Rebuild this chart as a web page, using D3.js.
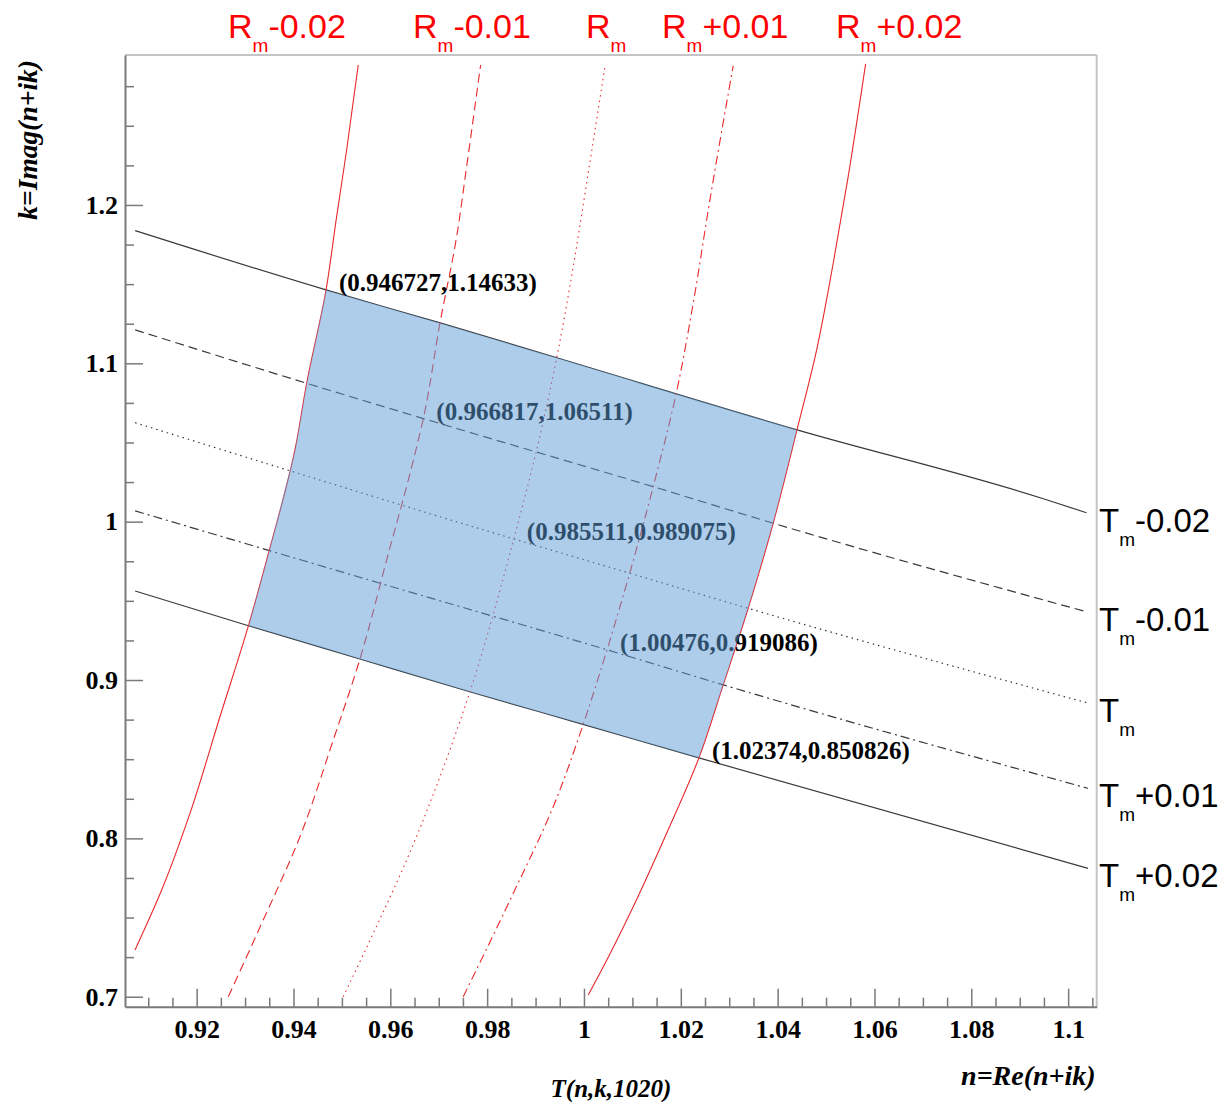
<!DOCTYPE html>
<html>
<head>
<meta charset="utf-8">
<script src="https://cdn.jsdelivr.net/npm/d3@7"></script>
<style>
  body { margin: 0; background: #fff; }
</style>
</head>
<body>
<svg id="chart" width="1223" height="1102"></svg>
<script>
// --- Data: points are [n, k] --------------------------------------
const nTicks = [0.92, 0.94, 0.96, 0.98, 1.0, 1.02, 1.04, 1.06, 1.08, 1.1];
const kTicks = [0.7, 0.8, 0.9, 1.0, 1.1, 1.2];

// R contours (red), bottom to top
const rMinus02 = [[0.90726, 0.7295], [0.91277, 0.7674], [0.91862, 0.8158], [0.92481, 0.8768],
  [0.9307, 0.9343], [0.93446, 0.9758], [0.9403, 1.0453], [0.94272, 1.0874],
  [0.946727, 1.14633], [0.94891, 1.1926], [0.95098, 1.2347], [0.95337, 1.2884]];
const rMinus01 = [[0.92653, 0.7], [0.93375, 0.7484], [0.94133, 0.801], [0.94821, 0.8621],
  [0.95373, 0.9133], [0.95924, 0.9758], [0.96529, 1.0453], [0.966817, 1.06511],
  [0.97025, 1.1253], [0.9737, 1.18], [0.97576, 1.2242], [0.97865, 1.2884]];
const rMid = [[0.95028, 0.7], [0.95647, 0.74], [0.96337, 0.7863], [0.97025, 0.8389],
  [0.97644, 0.8926], [0.98435, 0.9758], [0.985511, 0.989075], [0.99022, 1.0453],
  [0.99435, 1.1032], [0.99778, 1.161], [1.00054, 1.2137], [1.00433, 1.2873]];
const rPlus01 = [[0.97506, 0.7], [0.98539, 0.7653], [0.99365, 0.82], [0.99984, 0.872],
  [1.00476, 0.919086], [1.0143, 1.0221], [1.01913, 1.0821], [1.02256, 1.1379],
  [1.02601, 1.2032], [1.03082, 1.2878]];
const rPlus02 = [[1.00088, 0.7011], [1.00329, 0.7148], [1.01017, 0.7568], [1.01707, 0.8032],
  [1.02374, 0.850826], [1.02876, 0.8969], [1.03392, 0.9453], [1.03908, 0.999],
  [1.044, 1.058], [1.04805, 1.1084], [1.05148, 1.1632], [1.05457, 1.2179], [1.05817, 1.2891]];

// T contours (black), left to right
const tMinus02 = [[0.9073, 1.1838], [0.946727, 1.14633], [0.9703, 1.1255], [0.9944, 1.1035],
  [1.044, 1.058], [1.0949, 1.0145], [1.1038, 1.0056]];
const tMinus01 = [[0.9073, 1.1211], [0.9427, 1.0874], [0.966817, 1.06511], [1.0143, 1.0221],
  [1.0391, 0.999], [1.1038, 0.9431]];
const tMid = [[0.9073, 1.0625], [0.985511, 0.989075], [1.0095, 0.9674], [1.0339, 0.9453],
  [1.1038, 0.8857]];
const tPlus01 = [[0.9073, 1.0068], [0.9579, 0.9611], [1.00476, 0.919086], [1.0288, 0.8969],
  [1.1041, 0.8316]];
const tPlus02 = [[0.9073, 0.9562], [0.9307, 0.9343], [0.9537, 0.9133], [0.9764, 0.8926],
  [0.9998, 0.872], [1.02374, 0.850826], [1.1041, 0.7811]];

// labelled crossing points
const crossings = [[0.946727, 1.14633], [0.966817, 1.06511], [0.985511, 0.989075],
  [1.00476, 0.919086], [1.02374, 0.850826]];

// corners of the shaded region: top-left, top-right, bottom-right, bottom-left
const regionCorners = [[0.946727, 1.14633], [1.044, 1.058], [1.02374, 0.850826], [0.9307, 0.9343]];

const rSuffix = ["-0.02", "-0.01", "", "+0.01", "+0.02"];
const tSuffix = ["-0.02", "-0.01", "", "+0.01", "+0.02"];

// --- Layout --------------------------------------------------------
const svg = d3.select("#chart");
const frame = {left: 125, right: 1096.7, top: 55, bottom: 1006.7};

const x = d3.scaleLinear().domain([0.9052, 1.1059]).range([frame.left, frame.right]);
const y = d3.scaleLinear().domain([0.6937, 1.2947]).range([frame.bottom, frame.top]);

const dashes = ["none", "9,5", "1.5,4", "9,4,2,4", "none"];
const serif = "'Liberation Serif', 'Times New Roman', serif";
const sans = "'Liberation Sans', Arial, Helvetica, sans-serif";

// frame top/right
svg.append("line")
  .attr("x1", frame.left).attr("x2", frame.right)
  .attr("y1", frame.top).attr("y2", frame.top)
  .attr("stroke", "#c4c4c4").attr("stroke-width", 2);
svg.append("line")
  .attr("x1", frame.right).attr("x2", frame.right)
  .attr("y1", frame.top).attr("y2", frame.bottom)
  .attr("stroke", "#c4c4c4").attr("stroke-width", 2);

// --- Axes ----------------------------------------------------------
const fmt = d => String(+d.toFixed(2));

const xMinor = d3.range(182, 222).map(i => +(i * 0.005).toFixed(3))
  .filter(v => v >= x.domain()[0] && v <= x.domain()[1] && !nTicks.some(t => Math.abs(t - v) < 1e-6));
const yMinor = d3.range(28, 52).map(i => +(i * 0.025).toFixed(3))
  .filter(v => v >= y.domain()[0] && v <= y.domain()[1] && !kTicks.some(t => Math.abs(t - v) < 1e-6));

function styleAxis(g) {
  g.select(".domain").attr("stroke", "#7a7a7a").attr("stroke-width", 2);
  g.selectAll(".tick line").attr("stroke", "#7a7a7a").attr("stroke-width", 1.5);
  g.selectAll(".tick text")
    .attr("fill", "#000")
    .style("font-family", serif)
    .style("font-weight", "bold")
    .style("font-size", "26px");
}

svg.append("g")
  .attr("transform", `translate(0,${frame.bottom})`)
  .call(d3.axisBottom(x).tickValues(xMinor).tickSize(-9).tickFormat(""))
  .call(g => g.select(".domain").remove())
  .call(g => g.selectAll("line").attr("stroke", "#7a7a7a").attr("stroke-width", 1.5));

svg.append("g")
  .attr("transform", `translate(${frame.left},0)`)
  .call(d3.axisLeft(y).tickValues(yMinor).tickSize(-9).tickFormat(""))
  .call(g => g.select(".domain").remove())
  .call(g => g.selectAll("line").attr("stroke", "#7a7a7a").attr("stroke-width", 1.5));

svg.append("g")
  .attr("transform", `translate(0,${frame.bottom})`)
  .call(d3.axisBottom(x).tickValues(nTicks).tickSize(-18).tickSizeOuter(0).tickPadding(13).tickFormat(fmt))
  .call(styleAxis);

svg.append("g")
  .attr("transform", `translate(${frame.left},0)`)
  .call(d3.axisLeft(y).tickValues(kTicks).tickSize(-18).tickSizeOuter(0).tickPadding(7).tickFormat(fmt))
  .call(styleAxis);

// axis titles
svg.append("text")
  .attr("transform", "translate(37,60) rotate(-90)")
  .attr("text-anchor", "end")
  .style("font-family", serif).style("font-weight", "bold").style("font-style", "italic")
  .style("font-size", "27.5px")
  .text("k=Imag(n+ik)");

svg.append("text")
  .attr("x", frame.right - 1).attr("y", 1085)
  .attr("text-anchor", "end")
  .style("font-family", serif).style("font-weight", "bold").style("font-style", "italic")
  .style("font-size", "28px")
  .text("n=Re(n+ik)");

svg.append("text")
  .attr("x", 611).attr("y", 1097)
  .attr("text-anchor", "middle")
  .style("font-family", serif).style("font-weight", "bold").style("font-style", "italic")
  .style("font-size", "25px")
  .text("T(n,k,1020)");

// --- Contour lines -------------------------------------------------
const lineR = d3.line().x(d => x(d[0])).y(d => y(d[1])).curve(d3.curveMonotoneY);
const lineT = d3.line().x(d => x(d[0])).y(d => y(d[1])).curve(d3.curveMonotoneX);

const tCurves = [tMinus02, tMinus01, tMid, tPlus01, tPlus02];
const rCurves = [rMinus02, rMinus01, rMid, rPlus01, rPlus02];

svg.append("g").selectAll("path")
  .data(tCurves)
  .join("path")
  .attr("d", lineT)
  .attr("fill", "none")
  .attr("stroke", "#3a3a3a")
  .attr("stroke-width", 1.2)
  .attr("stroke-dasharray", (d, i) => dashes[i]);

svg.append("g").selectAll("path")
  .data(rCurves)
  .join("path")
  .attr("d", lineR)
  .attr("fill", "none")
  .attr("stroke", "#e8282a")
  .attr("stroke-width", 1.1)
  .attr("stroke-dasharray", (d, i) => dashes[i]);

// crossing labels
svg.append("g").selectAll("text")
  .data(crossings)
  .join("text")
  .attr("x", d => x(d[0]) + 13)
  .attr("y", d => y(d[1]) + 1)
  .style("font-family", serif).style("font-weight", "bold")
  .style("font-size", "25px")
  .attr("fill", "#000")
  .text(d => `(${d[0]},${d[1]})`);

// --- Curve labels (name with subscript m) ----------------------------
function subLabel(g, letter, suffix, color, size) {
  g.attr("fill", color).style("font-family", sans).style("font-size", size + "px");
  g.append("tspan").text(letter);
  g.append("tspan").attr("dy", 14).style("font-size", "19px").text("m");
  if (suffix) g.append("tspan").attr("dy", -14).text(suffix);
}

const rLabelX = [228, 413, 586, 662, 836];
rSuffix.forEach((s, i) => {
  svg.append("text").attr("x", rLabelX[i]).attr("y", 38)
    .call(subLabel, "R", s, "#ff0000", 34);
});

tSuffix.forEach((s, i) => {
  const end = tCurves[i][tCurves[i].length - 1];
  svg.append("text").attr("x", 1099).attr("y", y(end[1]) + 19)
    .call(subLabel, "T", s, "#000", 33);
});

// --- Shaded region, drawn on top with transparency ------------------
const [tl, tr, br, bl] = regionCorners;
const between = (v, a, b) => v > Math.min(a, b) && v < Math.max(a, b);
const regionPts = [
  tl,
  ...tMinus02.filter(p => between(p[0], tl[0], tr[0])),
  tr,
  ...rPlus02.filter(p => between(p[1], br[1], tr[1])).reverse(),
  br,
  ...tPlus02.filter(p => between(p[0], bl[0], br[0])).reverse(),
  bl,
  ...rMinus02.filter(p => between(p[1], bl[1], tl[1]))
];

svg.append("path")
  .datum(regionPts)
  .attr("d", d3.line().x(d => x(d[0])).y(d => y(d[1])).curve(d3.curveLinearClosed))
  .attr("fill", "#5b9bd5")
  .attr("fill-opacity", 0.5)
  .attr("stroke", "none");
</script>
</body>
</html>
